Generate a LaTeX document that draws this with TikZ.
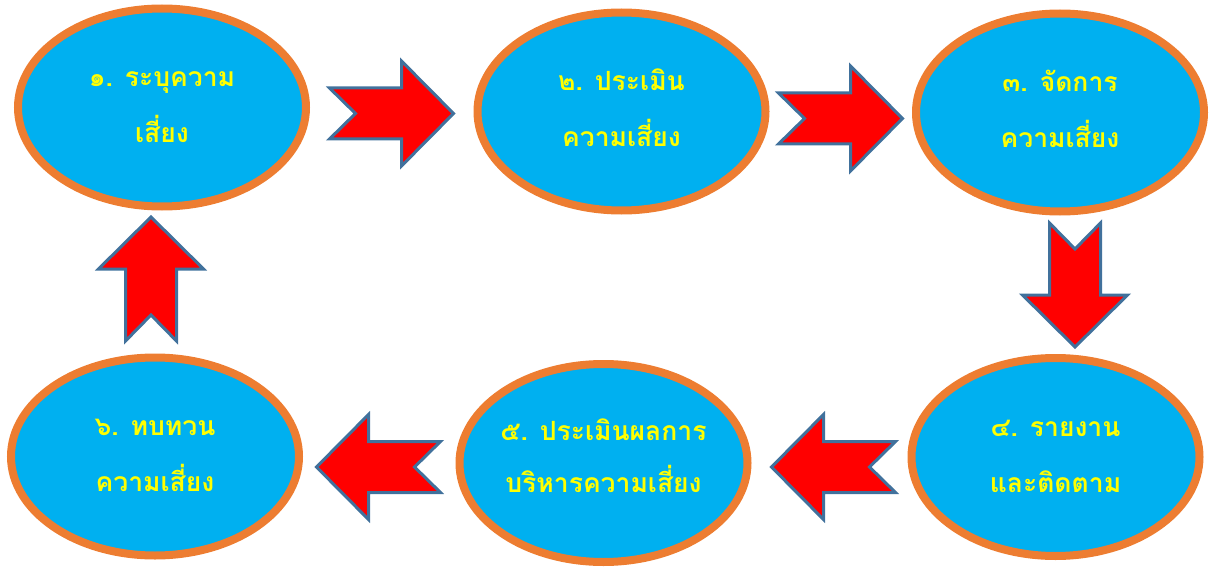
\documentclass[tikz,border=0pt]{standalone}
\usepackage{fontspec}
\newfontfamily\thaifont[Script=Thai]{Loma}
\usetikzlibrary{shapes.geometric}
\definecolor{skyfill}{RGB}{0,176,240}
\definecolor{rimorange}{RGB}{237,125,49}
\definecolor{arrowred}{RGB}{255,0,0}
\definecolor{arrowedge}{RGB}{65,113,156}
\definecolor{labelyellow}{RGB}{255,255,0}
\tikzset{
  stage/.style={ellipse, draw=rimorange, line width=8pt, fill=skyfill,
    minimum width=288pt, minimum height=198pt, inner sep=0pt},
  lbl/.style={text=labelyellow, anchor=base, inner sep=0pt,
    font=\thaifont\bfseries\fontsize{26.5}{30}\selectfont},
  % notched block arrow, centred on its position, pointing along +x
  blockarrow/.pic={
    \draw[fill=arrowred, draw=arrowedge, line width=3pt, line join=miter]
      (-62,-25.5) -- (10,-25.5) -- (10,-52.5) -- (62,0) -- (10,52.5)
      -- (10,25.5) -- (-62,25.5) -- (-36,0) -- cycle;
  }
}
\begin{document}
\begin{tikzpicture}[x=1pt,y=-1pt]
\useasboundingbox (0,0) rectangle (1213,567);

% process stages
\node[stage] (e1) at (162,107.5) {};
\node[stage] (e2) at (621.5,111.5) {};
\node[stage] (e3) at (1060,112.5) {};
\node[stage] (e4) at (1055.5,457) {};
\node[stage] (e5) at (603.5,463) {};
\node[stage] (e6) at (155,456.5) {};

% stage titles, two lines each
\node[lbl] (t1a) at ([yshift=21pt]e1.center) {๑. ระบุความ};
\node[lbl] (t1b) at ([yshift=-35pt]e1.center) {เสี่ยง};
\node[lbl] (t2a) at ([yshift=21pt]e2.center) {๒. ประเมิน};
\node[lbl] (t2b) at ([yshift=-35pt]e2.center) {ความเสี่ยง};
\node[lbl] (t3a) at ([yshift=21pt]e3.center) {๓. จัดการ};
\node[lbl] (t3b) at ([yshift=-35pt]e3.center) {ความเสี่ยง};
\node[lbl] (t4a) at ([yshift=21pt]e4.center) {๔. รายงาน};
\node[lbl] (t4b) at ([yshift=-35pt]e4.center) {และติดตาม};
\node[lbl] (t5a) at ([yshift=23pt]e5.center) {๕. ประเมินผลการ};
\node[lbl] (t5b) at ([yshift=-29pt]e5.center) {บริหารความเสี่ยง};
\node[lbl] (t6a) at ([yshift=21pt]e6.center) {๖. ทบทวน};
\node[lbl] (t6b) at ([yshift=-35pt]e6.center) {ความเสี่ยง};

% cycle arrows
\pic (a12) at (391.5,113.5) {blockarrow};
\pic (a23) at (840.5,118.5) {blockarrow};
\pic[rotate=-90] (a34) at (1075,285) {blockarrow};
\pic[rotate=180] (a45) at (833.5,467) {blockarrow};
\pic[rotate=180] (a56) at (378.5,467) {blockarrow};
\pic[rotate=90] (a61) at (151,279) {blockarrow};
\end{tikzpicture}
\end{document}
